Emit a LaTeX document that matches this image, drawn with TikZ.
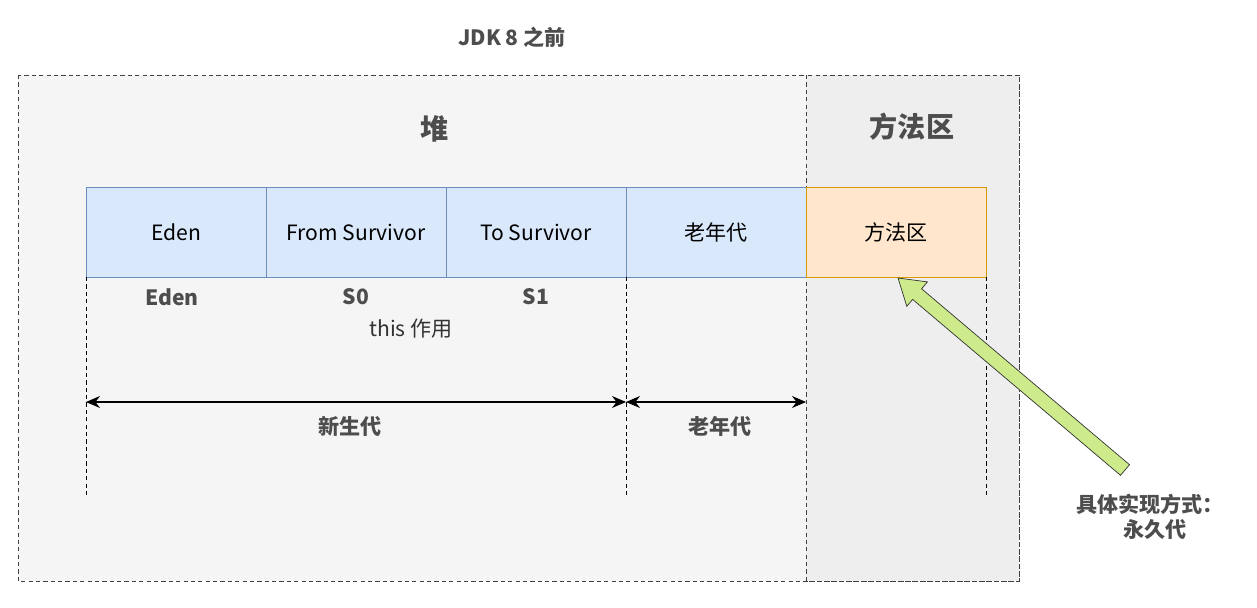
\documentclass[tikz,border=0pt]{standalone}
\usepackage{fontspec}
\setmainfont{Noto Sans CJK SC}
\usepackage{tikz}
\usetikzlibrary{arrows.meta,positioning,calc}
\definecolor{heapbg}{HTML}{F5F5F5}
\definecolor{metabg}{HTML}{EEEEEE}
\definecolor{genfill}{HTML}{DAE8FC}
\definecolor{gendraw}{HTML}{6C8EBF}
\definecolor{mafill}{HTML}{FFE6CC}
\definecolor{madraw}{HTML}{D79B00}
\definecolor{grnfill}{HTML}{CDEB8B}
\definecolor{txtgray}{HTML}{4D4D4D}
\tikzset{
  cell/.style={draw=gendraw, fill=genfill, minimum width=180*0.02cm, minimum height=90*0.02cm,
    inner sep=0pt, outer sep=0pt, font=\fontsize{12}{14}\selectfont},
  macell/.style={cell, draw=madraw, fill=mafill},
  blab/.style={font=\bfseries\fontsize{12}{14}\selectfont, text=txtgray},
  bigt/.style={font=\bfseries\fontsize{16}{19}\selectfont, text=txtgray},
  vln/.style={dash pattern=on 2.4pt off 1.8pt, black, line width=0.55pt},
  span/.style={{Stealth[length=2.8mm, width=2.4mm]}-{Stealth[length=2.8mm, width=2.4mm]}, black, line width=0.7pt},
}
\begin{document}
\begin{tikzpicture}[x=0.02cm, y=-0.02cm]
  \useasboundingbox (0,0) rectangle (1257,608);
  % background regions
  \draw[fill=heapbg, dash pattern=on 2.4pt off 1.8pt, draw=black!75] (18,75) rectangle (1019,581);
  \draw[fill=metabg, dash pattern=on 2.4pt off 1.8pt, draw=black!75] (806,75) rectangle (1019,581);
  \node[font=\bfseries\fontsize{12}{14}\selectfont, text=txtgray] (ttl) at (512,37) {JDK 8 之前};
  \node[bigt] (heap) at (435,129) {堆};
  \node[bigt] (meta) at (912,127) {方法区};
  % memory cells
  \node[cell] (eden) at (176,232) {Eden};
  \node[cell, right=0pt of eden] (from) {From Survivor};
  \node[cell, right=0pt of from] (to) {To Survivor};
  \node[cell, right=0pt of to] (old) {老年代};
  \node[macell, right=0pt of old] (ma) {方法区};
  % dashed guides
  \coordinate (g1) at (86,495);
  \coordinate (g2) at (626,495);
  \coordinate (g3) at (986,495);
  \draw[vln] (eden.south west) -- (g1);
  \draw[vln] (old.south west) -- (g2);
  \draw[vln] (ma.south east) -- (g3);
  \node[blab] (l0) at (172,297) {Eden};
  \node[blab] (l1) at (356,297) {S0};
  \node[blab] (l2) at (536,297) {S1};
  \node[font=\fontsize{12}{14}\selectfont, text=black!80] (note) at (411,329) {this 作用};
  % generation spans
  \coordinate (a1) at (86,402);
  \coordinate (a2) at (626,402);
  \coordinate (a3) at (806,402);
  \draw[span] (a1) -- (a2);
  \draw[span] (a2) -- (a3);
  \node[blab] (young) at (350,426) {新生代};
  \node[blab] (tenure) at (720,426) {老年代};
  % block arrow to method area
  \draw[fill=grnfill, draw=black!80] (898,278) -- (927.4,281.9) -- (921.6,288.8) -- (1129.5,464.7)
    -- (1120.5,475.3) -- (912.6,299.4) -- (906.8,306.3) -- cycle;
  \node[blab, align=center] (perm) at (1150,517) {具体实现方式：\\\hspace*{0.5em}永久代};
\end{tikzpicture}
\end{document}
